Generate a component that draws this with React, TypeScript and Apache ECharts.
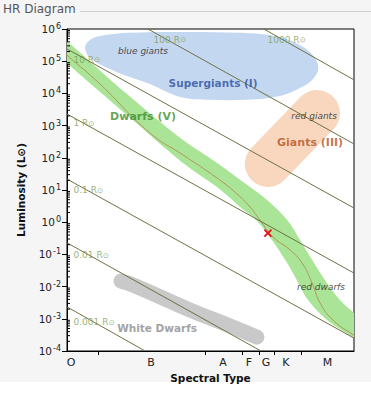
import { useEffect, useRef } from 'react';
import * as echarts from 'echarts';

// ---------- Data (x: position across spectral axis 0..100, y: log10 L/Lsun) ----------
const spectralTypes = ['O', 'B', 'A', 'F', 'G', 'K', 'M'];
const spectralLabelPositions = [1.4, 29.3, 54.4, 63.4, 69.3, 76.3, 90.8];
const spectralBoundaries = [11, 48.2, 61.1, 66.9, 72.2, 81.6];

const luminosityMin = 1e-4;
const luminosityMax = 1e6;

// Lines of constant radius (endpoints)
const radiusNames = ['0.001', '0.01', '0.1', '1', '10', '100', '1000'];
const radiusLineStarts = [[0, -2.63], [0, -0.64], [0, 1.34], [0, 3.36], [0, 5.38], [28.2, 6], [68.6, 6]];
const radiusLineEnds = [[27.2, -4], [67.6, -4], [100, -3.6], [100, -1.58], [100, 0.44], [100, 2.43], [100, 4.42]];
const radiusLabelAnchors = [[2.1, -3.1], [2.1, -1.02], [2.1, 1.0], [2.1, 3.08], [2.1, 5.04], [30.0, 5.66], [69.7, 5.66]];

// Regions
const blueGiantsOutline = [
  [6.3, 5.44], [8.0, 5.66], [11.5, 5.78], [20.9, 5.88], [39.4, 5.91], [60.3, 5.88], [74.2, 5.75],
  [82.9, 5.41], [86.8, 5.04], [87.5, 4.73], [85.4, 4.42], [81.2, 4.17], [74.2, 3.92], [62.7, 3.8],
  [49.8, 3.8], [39.4, 3.89], [28.9, 4.29], [17.4, 4.66], [8.0, 5.1],
];
const mainSequenceUpper = [
  [-4.2, 5.97], [0, 5.63], [20.9, 3.98], [40.4, 2.55], [52.3, 1.84], [63.8, 1.09], [69.7, 0.69],
  [76.7, 0.07], [81.2, -0.55], [85.4, -1.17], [89.9, -1.8], [95.1, -2.42], [100, -2.82], [102.1, -2.94],
];
const mainSequenceLower = [
  [-4.2, 5.29], [0, 4.94], [20.9, 3.33], [40.4, 1.84], [52.3, 1.09], [60.3, 0.47], [66.2, 0.04],
  [71.4, -0.55], [76.0, -1.17], [80.1, -1.8], [84.0, -2.42], [90.6, -3.04], [100, -3.6], [102.1, -3.72],
];
const mainSequenceCurve = [
  [-4.2, 5.53], [0, 5.19], [11.5, 4.29], [28.9, 2.77], [40.4, 2.09], [52.3, 1.37], [59.2, 0.88],
  [63.8, 0.47], [67.2, 0.07], [71.8, -0.46], [77.7, -0.86], [81.9, -1.27], [85.4, -1.89],
  [88.2, -2.51], [92.7, -3.04], [99.7, -3.5], [102.1, -3.63],
];
const whiteDwarfsTrack = [[18.8, -1.83], [23.0, -1.95], [42.9, -2.73], [56.8, -3.22], [66.2, -3.57]];
const giantsTrack = [[70.0, 1.81], [87.1, 3.39]];
const sunPosition = [70.0, -0.34];

const regionLabels = ['blue giants', 'Supergiants (I)', 'Dwarfs (V)', 'red giants', 'Giants (III)', 'red dwarfs', 'White Dwarfs'];
const regionLabelAnchors = [[26.5, 5.32], [50.9, 4.32], [26.5, 3.27], [86.1, 3.3], [84.7, 2.46], [88.5, -2.01], [31.4, -3.29]];

// ---------- helpers ----------
const FONT = 'DejaVu Sans, Verdana, sans-serif';
const toL = (p: number[]) => [p[0], Math.pow(10, p[1])];

const regionLabelStyles: any[] = [
  { fontStyle: 'italic', fontSize: 9, color: '#222' },
  { fontWeight: 'bold', fontSize: 10.5, color: '#2b4f9f' },
  { fontWeight: 'bold', fontSize: 11, color: '#3d8b2e' },
  { fontStyle: 'italic', fontSize: 9, color: '#222' },
  { fontWeight: 'bold', fontSize: 11, color: '#b4521f' },
  { fontStyle: 'italic', fontSize: 9, color: '#222' },
  { fontWeight: 'bold', fontSize: 10.5, color: '#8a8a8a' },
];

function polygonSeries(points: number[][], color: string, z: number) {
  const data = points.map(toL);
  return {
    type: 'custom',
    clip: true,
    silent: true,
    z,
    data,
    renderItem: (params: any, api: any) => {
      if (params.dataIndex !== 0) return null;
      const pts = data.map((d) => api.coord(d));
      return {
        type: 'polygon',
        shape: { points: pts, smooth: 0.35 },
        style: { fill: color },
      };
    },
  };
}

export default function App() {
  const ref = useRef<HTMLDivElement>(null);

  useEffect(() => {
    document.body.style.margin = '0';
    if (!ref.current) return;
    const chart = echarts.init(ref.current, undefined, { renderer: 'svg' });

    const minorTickValues: number[][] = [];
    for (let n = -4; n < 6; n++) {
      for (let k = 2; k <= 9; k++) minorTickValues.push([0, k * Math.pow(10, n)]);
    }

    const mainSequencePolygon = mainSequenceUpper.concat(mainSequenceLower.slice().reverse());

    const radiusSeries = radiusNames.map((name, i) => ({
      type: 'line',
      name: name + ' R',
      silent: true,
      z: 5,
      symbol: 'none',
      data: [toL(radiusLineStarts[i]), toL(radiusLineEnds[i])],
      lineStyle: { color: '#6f7146', width: 1 },
    }));

    const option: any = {
      animation: false,
      textStyle: { fontFamily: FONT },
      title: {
        text: 'HR Diagram',
        left: 3,
        top: 3,
        padding: 0,
        textStyle: { fontSize: 12, fontWeight: 'normal', color: '#555', fontFamily: FONT },
      },
      graphic: [
        {
          type: 'line',
          shape: { x1: 80, y1: 11.5, x2: 371, y2: 11.5 },
          style: { stroke: '#cfcfcf', lineWidth: 1 },
        },
      ],
      grid: {
        left: 67,
        right: 17,
        top: 29,
        bottom: 46,
        show: true,
        backgroundColor: '#fff',
        borderColor: '#000',
        borderWidth: 1,
      },
      xAxis: {
        type: 'value',
        min: 0,
        max: 100,
        name: 'Spectral Type',
        nameLocation: 'middle',
        nameGap: 20,
        nameTextStyle: { fontWeight: 'bold', fontSize: 10.5, color: '#111', fontFamily: FONT },
        axisLine: { show: true, lineStyle: { color: '#000' } },
        axisTick: {
          show: true,
          inside: false,
          length: 4,
          customValues: spectralBoundaries,
          lineStyle: { color: '#000' },
        },
        axisLabel: {
          customValues: spectralLabelPositions,
          margin: 6,
          fontSize: 11,
          color: '#222',
          fontFamily: FONT,
          formatter: (v: number) => {
            const i = spectralLabelPositions.findIndex((p) => Math.abs(p - v) < 1e-6);
            return i >= 0 ? spectralTypes[i] : '';
          },
        },
        splitLine: { show: false },
      },
      yAxis: {
        type: 'log',
        logBase: 10,
        min: luminosityMin,
        max: luminosityMax,
        interval: 1,
        splitNumber: 10,
        name: 'Luminosity (L⊙)',
        nameLocation: 'middle',
        nameGap: 41,
        nameTextStyle: { fontWeight: 'bold', fontSize: 10.5, color: '#111', fontFamily: FONT },
        axisLine: { show: true, lineStyle: { color: '#000' } },
        axisTick: { show: true, inside: false, length: 5, lineStyle: { color: '#000' } },
        axisLabel: {
          margin: 6,
          formatter: (v: number) => `{b|10}{e|${Math.round(Math.log10(v))}}`,
          rich: {
            b: { fontSize: 10.5, color: '#222', fontFamily: FONT },
            e: { fontSize: 8, color: '#222', fontFamily: FONT, padding: [0, 0, 5, 1] },
          },
        },
        splitLine: { show: false },
      },
      series: [
        polygonSeries(blueGiantsOutline, '#c4d7f1', 1),
        {
          type: 'line',
          silent: true,
          z: 1,
          symbol: 'none',
          data: giantsTrack.map(toL),
          lineStyle: { color: '#f9d7be', width: 46, cap: 'round' },
        },
        polygonSeries(mainSequencePolygon, '#a9e497', 2),
        {
          type: 'line',
          silent: true,
          z: 3,
          symbol: 'none',
          smooth: true,
          data: mainSequenceCurve.map(toL),
          lineStyle: { color: '#b0965a', width: 1 },
        },
        {
          type: 'line',
          silent: true,
          z: 2,
          symbol: 'none',
          smooth: true,
          data: whiteDwarfsTrack.map(toL),
          lineStyle: { color: '#c9c9c9', width: 15, cap: 'round', join: 'round' },
        },
        ...radiusSeries,
        {
          type: 'scatter',
          silent: true,
          z: 6,
          symbolSize: 1,
          itemStyle: { color: 'rgba(0,0,0,0)' },
          data: radiusNames.map((name, i) => ({
            value: toL(radiusLabelAnchors[i]),
            label: { formatter: `{v|${name} R}{s|⊙}` },
          })),
          label: {
            show: true,
            position: 'right',
            distance: 0,
            rich: {
              v: { fontSize: 9, color: '#7e9c55', fontFamily: FONT },
              s: { fontSize: 7.5, color: '#7e9c55', fontFamily: 'DejaVu Sans' },
            },
          },
        },
        {
          type: 'scatter',
          silent: true,
          z: 7,
          symbolSize: 1,
          itemStyle: { color: 'rgba(0,0,0,0)' },
          data: regionLabels.map((text, i) => ({
            value: toL(regionLabelAnchors[i]),
            label: { formatter: text, ...regionLabelStyles[i] },
          })),
          label: { show: true, position: 'inside', fontFamily: FONT },
        },
        {
          type: 'custom',
          silent: true,
          z: 8,
          data: minorTickValues,
          renderItem: (_params: any, api: any) => {
            const p = api.coord([api.value(0), api.value(1)]);
            return {
              type: 'line',
              shape: { x1: p[0], y1: p[1], x2: p[0] + 3, y2: p[1] },
              style: { stroke: '#000', lineWidth: 1 },
            };
          },
        },
        {
          type: 'custom',
          silent: true,
          z: 9,
          data: [toL(sunPosition)],
          renderItem: (_params: any, api: any) => {
            const p = api.coord([api.value(0), api.value(1)]);
            const s = 3.5;
            return {
              type: 'group',
              children: [
                { type: 'line', shape: { x1: p[0] - s, y1: p[1] - s, x2: p[0] + s, y2: p[1] + s }, style: { stroke: '#e3141c', lineWidth: 1.8 } },
                { type: 'line', shape: { x1: p[0] - s, y1: p[1] + s, x2: p[0] + s, y2: p[1] - s }, style: { stroke: '#e3141c', lineWidth: 1.8 } },
              ],
            };
          },
        },
      ],
    };

    chart.setOption(option);
    return () => chart.dispose();
  }, []);

  return (
    <div
      style={{
        width: 371,
        height: 397,
        background: 'linear-gradient(#f5f5f5 0px, #f5f5f5 382px, #ffffff 382px)',
      }}
    >
      <div ref={ref} style={{ width: 371, height: 397 }} />
    </div>
  );
}
